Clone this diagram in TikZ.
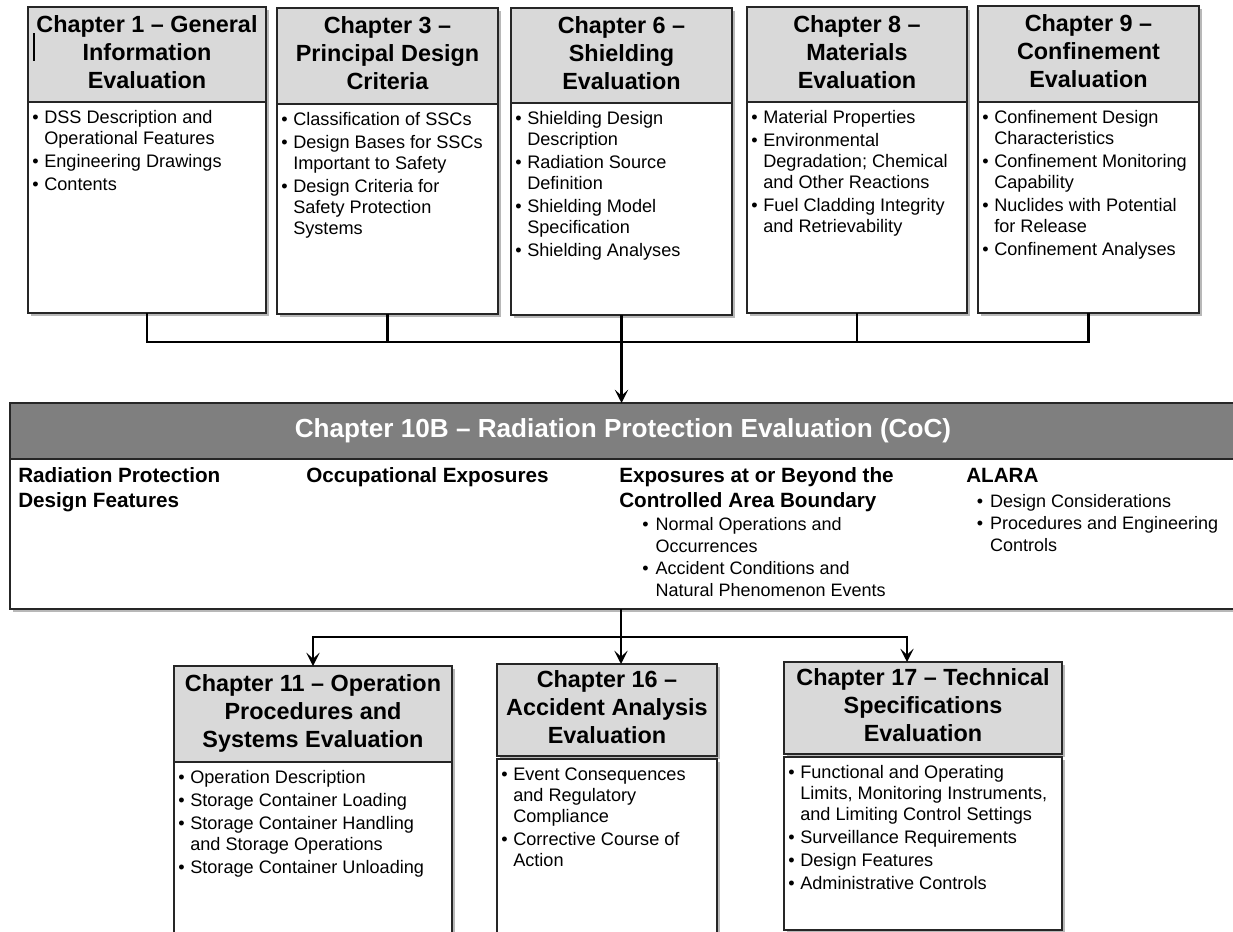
\documentclass[tikz,border=0pt]{standalone}
\usepackage{fontspec}
\setmainfont{Liberation Sans}
\usetikzlibrary{arrows.meta,shadows,calc}

\definecolor{hdrgray}{HTML}{D9D9D9}
\definecolor{bandgray}{HTML}{7F7F7F}
\definecolor{edge}{HTML}{262626}

% one drawing unit = one pixel of the 1233 x 932 sheet
\newdimen\px
\px=0.75pt

% bullet cells for the item lists
\newcommand\bu{\makebox[9pt][l]{•}}
\newcommand\bub{\makebox[10pt][l]{•}}

% #1 id, #2 left, #3 right, #4 top, #5 header bottom, #6 body top, #7 bottom,
% #8 title lines, #9 list rows
\newcommand\chapterbox[9]{%
  \node[hdr, anchor=north west,
        minimum width={(#3-#2)*\px}, minimum height={(#5-#4)*\px}]
        (h#1) at (#2,#4) {\begin{tabular}{@{}c@{}}#8\end{tabular}};
  \node[body, anchor=north west,
        minimum width={(#3-#2)*\px}, minimum height={(#7-#6)*\px}]
        (b#1) at (#2,#6) {};
  \node[listtext, anchor=base west] (l#1) at ($(b#1.north west)+(4,21.5)$)
        {\begin{tabular}[t]{@{}l@{}l@{}}#9\end{tabular}};
}

\begin{document}
\begin{tikzpicture}[x=0.75pt, y=-0.75pt,
  frame/.style={rectangle, draw=edge, line width=1.1pt, inner sep=0pt, outer sep=0pt,
    drop shadow={shadow xshift=2pt, shadow yshift=-2pt, opacity=0.28, fill=black}},
  hdr/.style={frame, fill=hdrgray, font=\bfseries\fontsize{17.55}{21}\selectfont},
  body/.style={frame, fill=white},
  listtext/.style={inner sep=0pt, font=\fontsize{13.6}{15.75}\selectfont},
  band/.style={frame, fill=bandgray, text=white, font=\bfseries\fontsize{19.6}{23}\selectfont},
  colhead/.style={inner sep=0pt, font=\bfseries\fontsize{15.5}{18.75}\selectfont},
  collist/.style={inner sep=0pt, font=\fontsize{13.5}{16.5}\selectfont},
  conn/.style={draw=black, line width=1.6pt},
  arr/.style={conn, -{Stealth[length=10pt, width=10pt, inset=4.5pt]}}
]
\useasboundingbox (0,0) rectangle (1233,932);
\clip (0,0) rectangle (1233,932);

% ---- upper row of chapters ----
\chapterbox{1}{28}{266}{7}{102}{102}{313}{Chapter 1 – General\\Information\\Evaluation}
  {\bu & DSS Description and\\ & Operational Features\\[1.5pt] \bu & Engineering Drawings\\[1.5pt] \bu & Contents}
\chapterbox{2}{277}{498}{8}{104}{104}{314}{Chapter 3 –\\Principal Design\\Criteria}
  {\bu & Classification of SSCs\\[1.5pt] \bu & Design Bases for SSCs\\ & Important to Safety\\[1.5pt] \bu & Design Criteria for\\ & Safety Protection\\ & Systems}
\chapterbox{3}{511}{732}{8}{103}{103}{315}{Chapter 6 –\\Shielding\\Evaluation}
  {\bu & Shielding Design\\ & Description\\[1.5pt] \bu & Radiation Source\\ & Definition\\[1.5pt] \bu & Shielding Model\\ & Specification\\[1.5pt] \bu & Shielding Analyses}
\chapterbox{4}{747}{967}{7}{102}{102}{313}{Chapter 8 –\\Materials\\Evaluation}
  {\bu & Material Properties\\[1.5pt] \bu & Environmental\\ & Degradation; Chemical\\ & and Other Reactions\\[1.5pt] \bu & Fuel Cladding Integrity\\ & and Retrievability}
\chapterbox{5}{978}{1199}{6}{102}{102}{313}{Chapter 9 –\\Confinement\\Evaluation}
  {\bu & Confinement Design\\ & Characteristics\\[1.5pt] \bu & Confinement Monitoring\\ & Capability\\[1.5pt] \bu & Nuclides with Potential\\ & for Release\\[1.5pt] \bu & Confinement Analyses}

% text cursor left in the first title
\draw[line width=0.9pt] (34,33) -- (34,61);

% ---- central chapter band ----
\node[band, anchor=north west, minimum width={1226*\px}, minimum height={56*\px}]
  (bxh) at (10,403) {Chapter 10B – Radiation Protection Evaluation (CoC)};
\node[body, anchor=north west, minimum width={1226*\px}, minimum height={150*\px}]
  (bx) at (10,459) {};

\node[colhead, anchor=base west] (c1) at (18,482)
  {\begin{tabular}[t]{@{}l@{}}Radiation Protection\\Design Features\end{tabular}};
\node[colhead, anchor=base west] (c2) at (306,482) {Occupational Exposures};
\node[colhead, anchor=base west] (c3) at (619,482)
  {\begin{tabular}[t]{@{}l@{}}Exposures at or Beyond the\\Controlled Area Boundary\end{tabular}};
\node[collist, anchor=base west] (c3l) at (642,530)
  {\begin{tabular}[t]{@{}l@{}l@{}}\bub & Normal Operations and\\ & Occurrences\\ \bub & Accident Conditions and\\ & Natural Phenomenon Events\end{tabular}};
\node[colhead, anchor=base west] (c4) at (966,482) {ALARA};
\node[collist, anchor=base west] (c4l) at (976.5,507)
  {\begin{tabular}[t]{@{}l@{}l@{}}\bub & Design Considerations\\ \bub & Procedures and Engineering\\ & Controls\end{tabular}};

% ---- lower row of chapters ----
\chapterbox{11}{174}{452}{666}{762}{762}{940}{Chapter 11 – Operation\\Procedures and\\Systems Evaluation}
  {\bu & Operation Description\\[1.5pt] \bu & Storage Container Loading\\[1.5pt] \bu & Storage Container Handling\\ & and Storage Operations\\[1.5pt] \bu & Storage Container Unloading}
\chapterbox{16}{497}{717}{664}{756}{759}{940}{Chapter 16 –\\Accident Analysis\\Evaluation}
  {\bu & Event Consequences\\ & and Regulatory\\ & Compliance\\[1.5pt] \bu & Corrective Course of\\ & Action}
\chapterbox{17}{784}{1062}{662}{754}{757}{930}{Chapter 17 – Technical\\Specifications\\Evaluation}
  {\bu & Functional and Operating\\ & Limits, Monitoring Instruments,\\ & and Limiting Control Settings\\[1.5pt] \bu & Surveillance Requirements\\[1.5pt] \bu & Design Features\\[1.5pt] \bu & Administrative Controls}

% ---- connectors ----
\coordinate (topbus) at (0,342);
\draw[conn] (b1.south) -- (b1.south |- topbus) -- (b5.south |- topbus) -- (b5.south);
\draw[conn] (b2.south) -- (b2.south |- topbus);
\draw[conn] (b4.south) -- (b4.south |- topbus);
\draw[arr] (b3.south) -- (b3.south |- bxh.north);

\coordinate (lowbus) at (621,637);
\coordinate (t17) at (907,637);
\draw[arr] (bx.south -| lowbus) -- (lowbus |- h16.north);
\draw[arr] (lowbus) -- (h11.north |- lowbus) -- (h11.north);
\draw[arr] (lowbus) -- (t17) -- (t17 |- h17.north);
\end{tikzpicture}
\end{document}
